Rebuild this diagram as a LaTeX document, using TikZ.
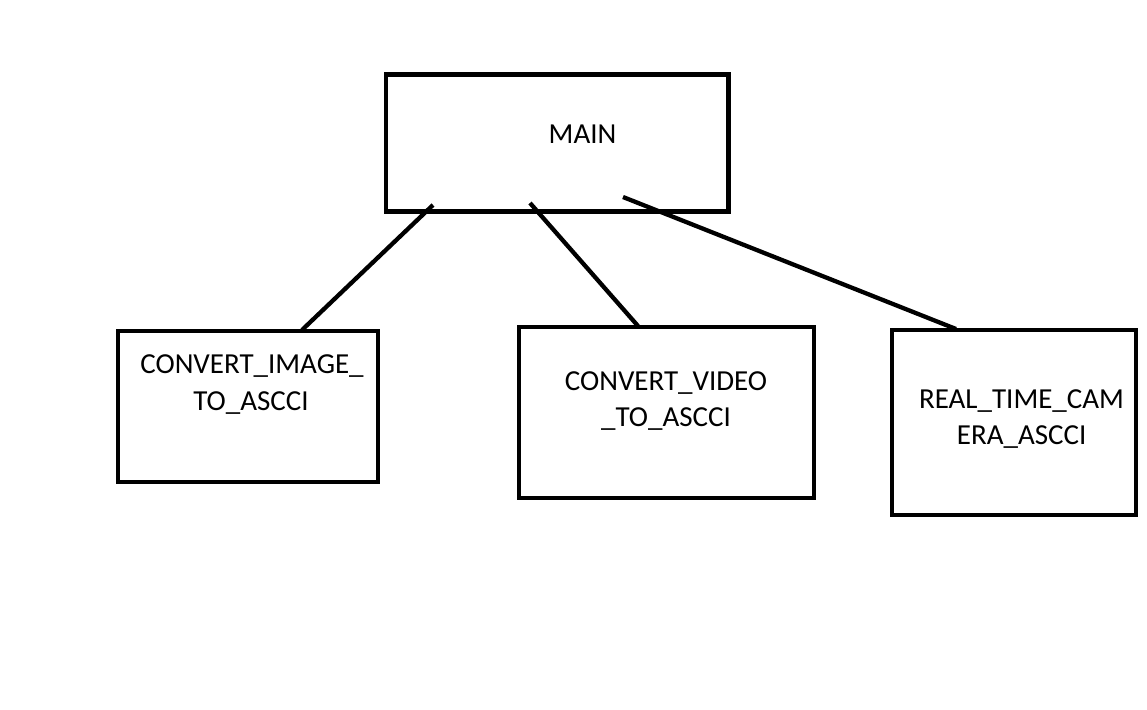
\documentclass[tikz,border=0pt]{standalone}
\usepackage{fontspec}
\setmainfont{Carlito}
\begin{document}
\begin{tikzpicture}[x=1pt,y=-1pt,
  box/.style={draw=black,line width=4.5pt,rectangle,inner sep=0pt,outer sep=0pt,anchor=north west},
  txt/.style={anchor=base,inner sep=0pt,font=\fontsize{29}{36}\selectfont},
  conn/.style={draw=black,line width=4.3pt}]
\useasboundingbox[fill=white] (0,0) rectangle (1147,709);
\node[box,minimum width=342.5pt,minimum height=137pt] (main) at (386,74.5) {};
\node[box,minimum width=260pt,minimum height=151pt] (img) at (118,331) {};
\node[box,minimum width=295pt,minimum height=171pt] (vid) at (519,327) {};
\node[box,minimum width=244pt,minimum height=185pt] (cam) at (892,330) {};
\node[txt] (tmain) at (582.5,143) {MAIN};
\node[txt] (timg1) at (252,373) {CONVERT\_IMAGE\_};
\node[txt] (timg2) at (251,410) {TO\_ASCCI};
\node[txt] (tvid1) at (666,390) {CONVERT\_VIDEO};
\node[txt] (tvid2) at (666,426) {\_TO\_ASCCI};
\node[txt] (tcam1) at (1021.5,408) {REAL\_TIME\_CAM};
\node[txt] (tcam2) at (1021.7,444) {ERA\_ASCCI};
\coordinate (m1) at (433,205);
\coordinate (m2) at (530,203);
\coordinate (m3) at (623,197);
\coordinate (e1) at (302,330);
\coordinate (e2) at (638,326);
\coordinate (e3) at (956,329);
\draw[conn] (m1) -- (e1);
\draw[conn] (m2) -- (e2);
\draw[conn] (m3) -- (e3);
\end{tikzpicture}
\end{document}
